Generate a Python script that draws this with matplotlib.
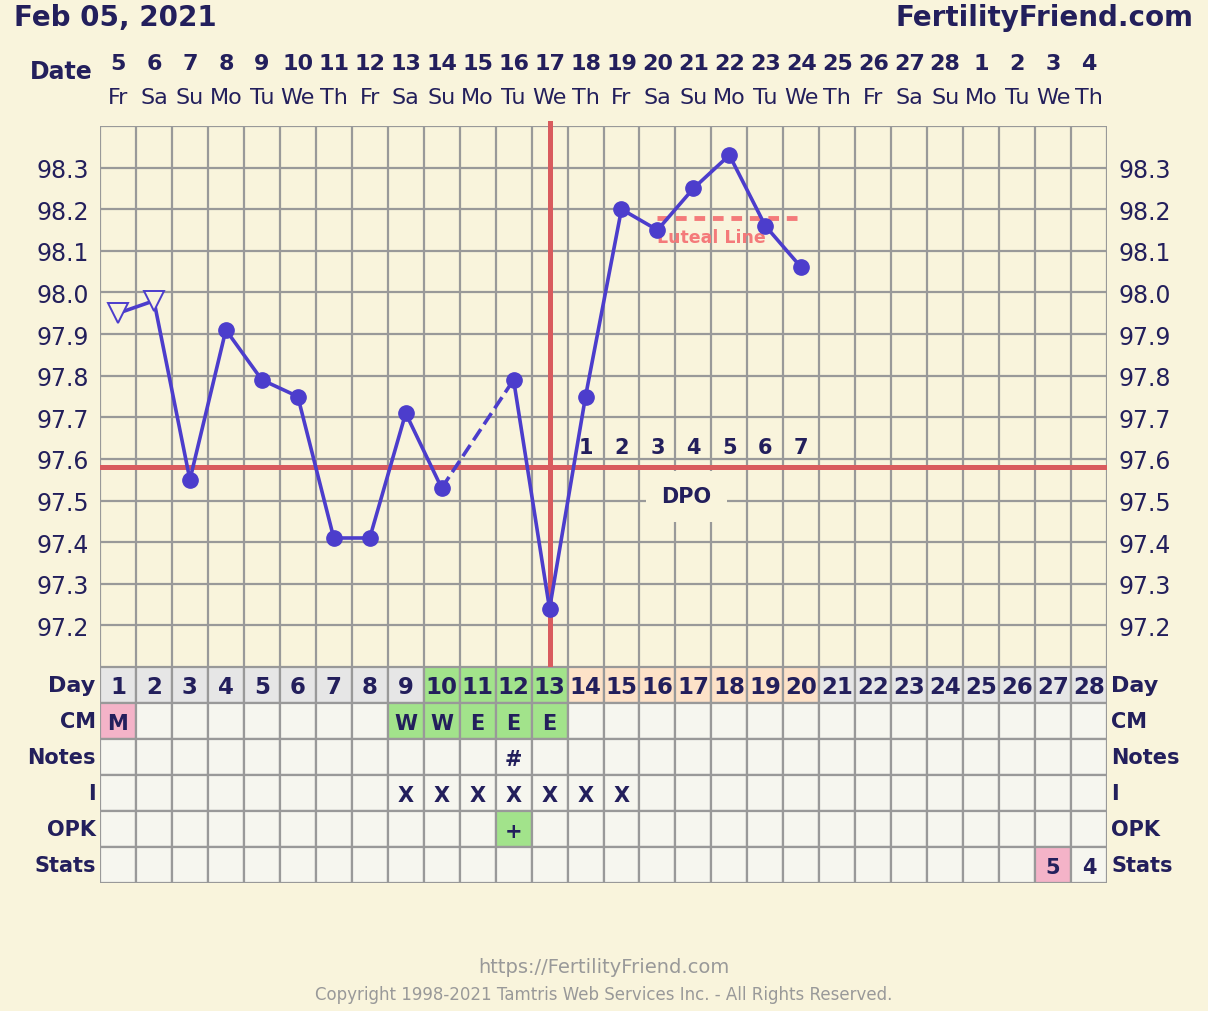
import matplotlib.pyplot as plt
from matplotlib.patches import Rectangle
from matplotlib.transforms import blended_transform_factory

# ---- data ----
date_nums = ["5", "6", "7", "8", "9", "10", "11", "12", "13", "14", "15", "16", "17", "18",
             "19", "20", "21", "22", "23", "24", "25", "26", "27", "28", "1", "2", "3", "4"]
weekdays = ["Fr", "Sa", "Su", "Mo", "Tu", "We", "Th"] * 4
cycle_days = list(range(1, 29))
temps = [97.95, 97.98, 97.55, 97.91, 97.79, 97.75, 97.41, 97.41, 97.71, 97.53, None,
         97.79, 97.24, 97.75, 98.20, 98.15, 98.25, 98.33, 98.16, 98.06]
open_days = [1, 2]          # temps shown with open triangles
coverline = 97.58
ovulation_day = 13
luteal_level = 98.18
luteal_days = (16, 20)
dpo_days = [14, 15, 16, 17, 18, 19, 20]
cm = {1: "M", 9: "W", 10: "W", 11: "E", 12: "E", 13: "E"}
notes = {12: "#"}
intercourse = [9, 10, 11, 12, 13, 14, 15]
opk = {12: "+"}
stats = {27: "5", 28: "4"}
row_names = ["Day", "CM", "Notes", "I", "OPK", "Stats"]

# ---- colours ----
BG = "#f9f4dc"
NAVY = "#231f5c"
GRID = "#999999"
LINE = "#4c3dcc"
RED = "#d95b5e"
SALMON = "#f47a7a"
CELL = "#f6f6ef"
DAYCELL = "#e6e6e6"
GREEN = "#a2e38b"
PEACH = "#fde2c8"
PINK = "#f4b3c8"

W, H = 1208, 1012
fig = plt.figure(figsize=(W / 100, H / 100), dpi=100, facecolor=BG)

def fbox(x0, y0, x1, y1):
    return [x0 / W, 1 - y1 / H, (x1 - x0) / W, (y1 - y0) / H]

# ---- temperature chart ----
ax = fig.add_axes(fbox(100, 127, 1107, 668))
ax.set_facecolor(BG)
ax.set_xlim(0.5, 28.5)
ax.set_ylim(97.1, 98.4)
for x in range(0, 29):
    ax.axvline(x + 0.5, color=GRID, lw=1.6, zorder=1)
for i in range(0, 14):
    ax.axhline(97.1 + i * 0.1, color=GRID, lw=1.6, zorder=1)
for s in ax.spines.values():
    s.set_visible(False)
ax.set_xticks([])
yt = [97.2 + i * 0.1 for i in range(12)]
ax.set_yticks(yt)
ax.set_yticklabels([f"{v:.1f}" for v in yt])
ax.tick_params(axis="y", length=0, labelsize=17, labelcolor=NAVY, pad=8,
               labelright=True, right=False)

ax.axhline(coverline, color=RED, lw=3.6, zorder=3)
ax.axvline(ovulation_day, color=RED, lw=3.6, ymax=1.006, clip_on=False, zorder=3)

# temperature line: solid between consecutive days, dashed across gaps
pts = [(d, t) for d, t in zip(cycle_days, temps) if t is not None]
for (d0, t0), (d1, t1) in zip(pts[:-1], pts[1:]):
    ls = "-" if d1 - d0 == 1 else "--"
    ax.plot([d0, d1], [t0, t1], color=LINE, lw=2.6, ls=ls, zorder=4)
for d, t in pts:
    if d in open_days:
        ax.plot(d, t, marker="v", ms=15, mfc=BG, mec=LINE, mew=1.4, zorder=5)
    else:
        ax.plot(d, t, marker="o", ms=11, color=LINE, zorder=5)

ax.plot(luteal_days, [luteal_level] * 2, color=SALMON, lw=3.5, ls=(0, (2.2, 1.6)), zorder=3)
ax.text(luteal_days[0], luteal_level - 0.025, "Luteal Line", color=SALMON, fontsize=12.5,
        fontweight="bold", ha="left", va="top", zorder=4)

for n, d in enumerate(dpo_days, start=1):
    ax.text(d, coverline + 0.025, str(n), color=NAVY, fontsize=15, fontweight="bold",
            ha="center", va="bottom", zorder=4)
ax.text(16.8, coverline - 0.07, "DPO", color=NAVY, fontsize=15, fontweight="bold",
        ha="center", va="center", zorder=4,
        bbox=dict(boxstyle="square,pad=0.75", fc=BG, ec="none"))

# ---- header ----
fig.text(14 / W, 1 - 18 / H, "Feb 05, 2021", color=NAVY, fontsize=20, fontweight="bold",
         ha="left", va="center")
fig.text(1194 / W, 1 - 18 / H, "FertilityFriend.com", color=NAVY, fontsize=20,
         fontweight="bold", ha="right", va="center")
tr = blended_transform_factory(ax.transData, fig.transFigure)
fig.text(93 / W, 1 - 72 / H, "Date", color=NAVY, fontsize=17, fontweight="bold",
         ha="right", va="center")
for d, num, wd in zip(cycle_days, date_nums, weekdays):
    ax.text(d, 1 - 64 / H, num, transform=tr, color=NAVY, fontsize=16, fontweight="bold",
            ha="center", va="center")
    ax.text(d, 1 - 98 / H, wd, transform=tr, color=NAVY, fontsize=16,
            ha="center", va="center")

# ---- table ----
tb = fig.add_axes(fbox(100, 668, 1107, 884))
tb.set_xlim(0.5, 28.5)
tb.set_ylim(6, 0)
tb.axis("off")

def cell(col, row, fc):
    tb.add_patch(Rectangle((col - 0.5, row), 1, 1, fc=fc, ec=GRID, lw=1.6))

for d in cycle_days:
    if ovulation_day - 3 <= d <= ovulation_day:
        fc = GREEN
    elif d in dpo_days:
        fc = PEACH
    else:
        fc = DAYCELL
    cell(d, 0, fc)
    tb.text(d, 0.55, str(d), color=NAVY, fontsize=16.5, fontweight="bold", ha="center", va="center")
    for r in range(1, 6):
        fc = CELL
        if r == 1 and d in cm:
            fc = PINK if cm[d] == "M" else GREEN
        if r == 4 and d in opk:
            fc = GREEN
        if r == 5 and d == 27:
            fc = PINK
        cell(d, r, fc)

def put(d, r, s):
    tb.text(d, r + 0.55, s, color=NAVY, fontsize=15, fontweight="bold", ha="center", va="center")

for d, s in cm.items():
    put(d, 1, s)
for d, s in notes.items():
    put(d, 2, s)
for d in intercourse:
    put(d, 3, "X")
for d, s in opk.items():
    put(d, 4, s)
for d, s in stats.items():
    put(d, 5, s)

for r, name in enumerate(row_names):
    tb.text(0.38, r + 0.5, name, color=NAVY, fontsize=16 if r == 0 else 15,
            fontweight="bold", ha="right", va="center")
    tb.text(28.62, r + 0.5, name, color=NAVY, fontsize=16 if r == 0 else 15,
            fontweight="bold", ha="left", va="center")

# ---- footer ----
fig.text(0.5, 1 - 968 / H, "https://FertilityFriend.com", color="#999999", fontsize=14,
         ha="center", va="center")
fig.text(0.5, 1 - 995 / H, "Copyright 1998-2021 Tamtris Web Services Inc. - All Rights Reserved.",
         color="#999999", fontsize=12, ha="center", va="center")

fig.savefig("out.png", dpi=100, facecolor=BG)
